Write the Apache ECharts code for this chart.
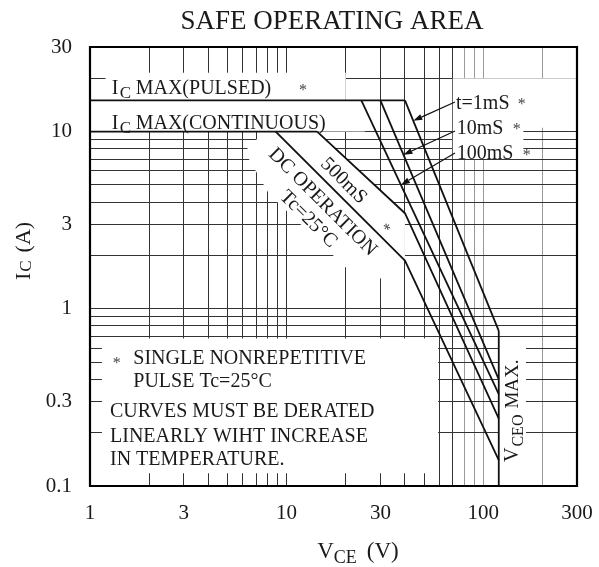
<!DOCTYPE html>
<html><head><meta charset="utf-8">
<script src="https://cdn.jsdelivr.net/npm/echarts@6/dist/echarts.min.js"></script>
<style>html,body{margin:0;padding:0;background:#fff}#c{width:599px;height:567px}</style>
</head><body><div id="c"></div>
<script>
// ---------------- data ----------------
const xTicks = [1, 3, 10, 30, 100, 300];          // V_CE tick labels
const yTicks = [0.1, 0.3, 1, 3, 10, 30];          // I_C tick labels
const xGrid  = [2,3,4,5,6,7,8,9,10,20,30,40,50,60,70,80,90,100,200];
const yGrid  = [0.2,0.3,0.4,0.5,0.6,0.7,0.8,0.9,1,2,3,4,5,6,7,8,9,10,20];
const xGridGray = [80,90,100,200];

const icPulsed = [[1,15],[40,15]];
const icCont   = [[1,10],[14.3,10]];
const t1ms     = [[40,15],[120,0.75]];
const t10ms    = [[30,15],[120,0.40]];
const t100ms   = [[24,15],[120,0.33]];
const t500ms   = [[14.3,10],[40,3.46],[120,0.24]];
const dcOp     = [[8.8,10],[40,1.87],[120,0.14]];
const vceoMax  = [[120,0.75],[120,0.1]];

// ---------------- layout ----------------
const FONT = '"Liberation Serif", "Times New Roman", serif';
const INK = '#1a1a1a';
const X0 = xTicks[0], X1 = xTicks[xTicks.length-1], Y0 = yTicks[0], Y1 = yTicks[yTicks.length-1];
// white label backgrounds (data space): [x1, y1, x2, y2]
const labelBoxes = [
  [1.2, 15, 20, 21.5],
  [X0, 10, 25, 15],
  [70, 10.5, X1, 20],
  [70, 7, 160, 10.5],
  [1.15, 0.118, 59, 0.68],
  [120, Y0, 165, 0.68]
];

const gridSegs = [];
xGrid.forEach(v => gridSegs.push([v, Y0, v, Y1, xGridGray.includes(v) ? 1 : 0]));
yGrid.forEach(v => gridSegs.push([X0, v, X1, v, 0]));

function fmt(v) {
  const all = xTicks.concat(yTicks);
  for (const t of all) if (Math.abs(Math.log10(v / t)) < 1e-6) return String(t);
  return '';
}

const chart = echarts.init(document.getElementById('c'), null, {renderer: 'canvas'});

function crisp(v) { return Math.round(v - 0.5) + 0.5; }

const curveStyle = {color: '#111', width: 1.8};
function curve(name, data) {
  return {name, type: 'line', data, symbol: 'none', lineStyle: curveStyle, z: 4, silent: true, animation: false};
}

chart.setOption({
  animation: false,
  grid: {left: 90, right: 22, top: 47, bottom: 81, show: false},
  xAxis: {
    type: 'log', logBase: 10, min: X0, max: X1,
    axisLine: {show: false}, axisTick: {show: false}, splitLine: {show: false},
    axisLabel: {customValues: xTicks, formatter: fmt, fontFamily: FONT, fontSize: 21, color: INK, margin: 17}
  },
  yAxis: {
    type: 'log', logBase: 10, min: Y0, max: Y1,
    axisLine: {show: false}, axisTick: {show: false}, splitLine: {show: false},
    axisLabel: {customValues: yTicks, formatter: fmt, fontFamily: FONT, fontSize: 21, color: INK, margin: 18}
  },
  series: [
    {
      type: 'custom', name: 'grid', z: 1, silent: true, data: gridSegs,
      encode: {x: [0, 2], y: [1, 3]},
      renderItem: (p, api) => {
        const a = api.coord([api.value(0), api.value(1)]);
        const b = api.coord([api.value(2), api.value(3)]);
        const vert = api.value(0) === api.value(2);
        const s = {x1: a[0], y1: a[1], x2: b[0], y2: b[1]};
        if (vert) { s.x1 = s.x2 = crisp(a[0]); } else { s.y1 = s.y2 = crisp(a[1]); }
        return {type: 'line', shape: s, style: {stroke: api.value(4) ? '#9a9a9a' : '#333333', lineWidth: 1}};
      }
    },
    {
      type: 'custom', name: 'boxes', z: 2, silent: true, data: labelBoxes,
      encode: {x: [0, 2], y: [1, 3]},
      renderItem: (p, api) => {
        const a = api.coord([api.value(0), api.value(3)]);
        const b = api.coord([api.value(2), api.value(1)]);
        return {type: 'rect', shape: {x: a[0], y: a[1], width: b[0] - a[0], height: b[1] - a[1]}, style: {fill: '#fff'}};
      }
    },
    curve('IC MAX (PULSED)', icPulsed),
    curve('IC MAX (CONTINUOUS)', icCont),
    curve('1mS', t1ms),
    curve('10mS', t10ms),
    curve('100mS', t100ms),
    curve('500mS', t500ms),
    curve('DC', dcOp),
    curve('VCEO MAX', vceoMax),
    {
      type: 'custom', name: 'frame', z: 6, silent: true, data: [[X0, Y0, X1, Y1]],
      encode: {x: [0, 2], y: [1, 3]},
      renderItem: (p, api) => {
        const a = api.coord([api.value(0), api.value(3)]);
        const b = api.coord([api.value(2), api.value(1)]);
        return {type: 'rect', shape: {x: a[0], y: a[1], width: b[0] - a[0], height: b[1] - a[1]}, style: {fill: 'none', stroke: '#000', lineWidth: 2.2}};
      }
    }
  ]
});

// ---------------- annotations ----------------
const mctx = document.createElement('canvas').getContext('2d');
function tw(t, s) { mctx.font = s + 'px ' + FONT; return mctx.measureText(t).width; }
function seq(pieces, x, y, o) {
  o = o || {};
  let total = 0; const ch = [];
  pieces.forEach(p => { total += (p.gap || 0); ch.push({p, x: total}); total += tw(p.t, p.s || 20); });
  const off = o.anchor === 'center' ? -total / 2 : (o.anchor === 'right' ? -total : 0);
  return {
    type: 'group', x, y, rotation: o.rot || 0, z: 10,
    children: ch.map(c => ({
      type: 'text', x: c.x + off, y: c.p.dy || 0, z: 10,
      style: {text: c.p.t, font: (c.p.s || 20) + 'px ' + FONT, fill: o.fill || INK,
              textVerticalAlign: 'middle', verticalAlign: 'middle', textAlign: 'left', align: 'left'}
    }))
  };
}
const P = d => chart.convertToPixel({gridIndex: 0}, d);
function vAt(line, I) {
  for (let i = 0; i < line.length - 1; i++) {
    const [v1, i1] = line[i], [v2, i2] = line[i + 1];
    if ((I <= i1 && I >= i2) || (I >= i1 && I <= i2)) {
      if (i1 === i2) return v1;
      const f = (Math.log(I) - Math.log(i1)) / (Math.log(i2) - Math.log(i1));
      return Math.exp(Math.log(v1) + f * (Math.log(v2) - Math.log(v1)));
    }
  }
  return line[0][0];
}
function frameOf(a, b) {
  const dx = b[0] - a[0], dy = b[1] - a[1], L = Math.hypot(dx, dy);
  const u = [dx / L, dy / L], n = [-u[1], u[0]];
  return {o: a, u, n, ang: Math.atan2(dy, dx), pt: (s, t) => [a[0] + s * u[0] + t * n[0], a[1] + s * u[1] + t * n[1]]};
}
function arrow(from, to) {
  const dx = to[0] - from[0], dy = to[1] - from[1], L = Math.hypot(dx, dy);
  const u = [dx / L, dy / L], n = [-u[1], u[0]];
  const hl = 9, hw = 3;
  const b = [to[0] - u[0] * hl, to[1] - u[1] * hl];
  return [
    {type: 'line', z: 9, shape: {x1: from[0], y1: from[1], x2: b[0], y2: b[1]}, style: {stroke: '#111', lineWidth: 1.2}},
    {type: 'polygon', z: 9, shape: {points: [to, [b[0] + n[0] * hw, b[1] + n[1] * hw], [b[0] - n[0] * hw, b[1] - n[1] * hw]]}, style: {fill: '#111'}}
  ];
}

const dcF = frameOf(P(dcOp[0]), P(dcOp[1]));
const g = [];
// white band under DC line for its label
g.push({type: 'polygon', z: 3, shape: {points: [[-8, 0], [178, 0], [178, 46], [40, 49], [-8, 36]].map(q => dcF.pt(q[0], q[1]))}, style: {fill: '#fff'}});
// white band between DC and 500mS lines
g.push({type: 'polygon', z: 3, shape: {points: [P(dcOp[0]), P(dcOp[1]), P(t500ms[1]), P(t500ms[0])]}, style: {fill: '#fff'}});

const rot = -dcF.ang;
const c1 = dcF.pt(83, 17), c2 = dcF.pt(85, 39), c3 = dcF.pt(83, -13), c4 = dcF.pt(146, -8);
g.push(seq([{t: 'DC OPERATION'}], c1[0], c1[1], {anchor: 'center', rot}));
g.push(seq([{t: 'Tc=25°C'}], c2[0], c2[1], {anchor: 'center', rot}));
g.push(seq([{t: '500mS'}], c3[0], c3[1], {anchor: 'center', rot}));
g.push(seq([{t: '*', s: 16}], c4[0], c4[1], {anchor: 'center', rot, fill: '#444'}));

// title & axis names
g.push(seq([{t: 'SAFE OPERATING AREA', s: 27}], 332, 22, {anchor: 'center'}));
g.push(seq([{t: 'V', s: 23}, {t: 'CE', s: 18, dy: 6}, {t: '(V)', s: 23, gap: 10}], 358, 552, {anchor: 'center'}));
g.push(seq([{t: 'I', s: 22}, {t: 'C', s: 17, dy: 3, gap: 1}, {t: '(A)', s: 22, gap: 8}], 24, 251, {anchor: 'center', rot: Math.PI / 2}));

// Ic max labels
g.push(seq([{t: 'I'}, {t: 'C', s: 17, dy: 5, gap: 1.5}, {t: 'MAX(PULSED)', gap: 4.5}], 111.7, 88.5));
g.push(seq([{t: '*', s: 16}], 303, 91, {anchor: 'center', fill: '#444'}));
g.push(seq([{t: 'I'}, {t: 'C', s: 17, dy: 5, gap: 1.5}, {t: 'MAX(CONTINUOUS)', gap: 4.5}], 111.7, 123.7));

// pulse width labels
g.push(seq([{t: 't=1mS'}], 456, 104));
g.push(seq([{t: '*', s: 16}], 521.7, 105, {anchor: 'center', fill: '#444'}));
g.push(seq([{t: '10mS'}], 456.7, 129));
g.push(seq([{t: '*', s: 16}], 516.7, 130, {anchor: 'center', fill: '#444'}));
g.push(seq([{t: '100mS'}], 456.7, 154));
g.push(seq([{t: '*', s: 16}], 526.7, 156, {anchor: 'center', fill: '#444'}));
arrow([455, 102], P([vAt(t1ms, 11.5), 11.5])).forEach(e => g.push(e));
arrow([455, 131], P([vAt(t10ms, 7.4), 7.4])).forEach(e => g.push(e));
arrow([455, 153], P([vAt(t100ms, 5.0), 5.0])).forEach(e => g.push(e));

// notes
g.push(seq([{t: '*', s: 16}], 116.7, 364, {anchor: 'center', fill: '#444'}));
g.push(seq([{t: 'SINGLE NONREPETITIVE'}], 133.3, 359));
g.push(seq([{t: 'PULSE Tc=25°C'}], 133.3, 382));
g.push(seq([{t: 'CURVES MUST BE DERATED'}], 110, 412));
g.push(seq([{t: 'LINEARLY WIHT INCREASE'}], 110, 436.7));
g.push(seq([{t: 'IN TEMPERATURE.'}], 110, 460));

// VCEO MAX label (vertical)
g.push(seq([{t: 'V'}, {t: 'CEO', s: 16, dy: 6, gap: 1}, {t: 'MAX.', s: 19, gap: 6}], 513, 462, {rot: Math.PI / 2}));

chart.setOption({graphic: g});
</script>
</body></html>
